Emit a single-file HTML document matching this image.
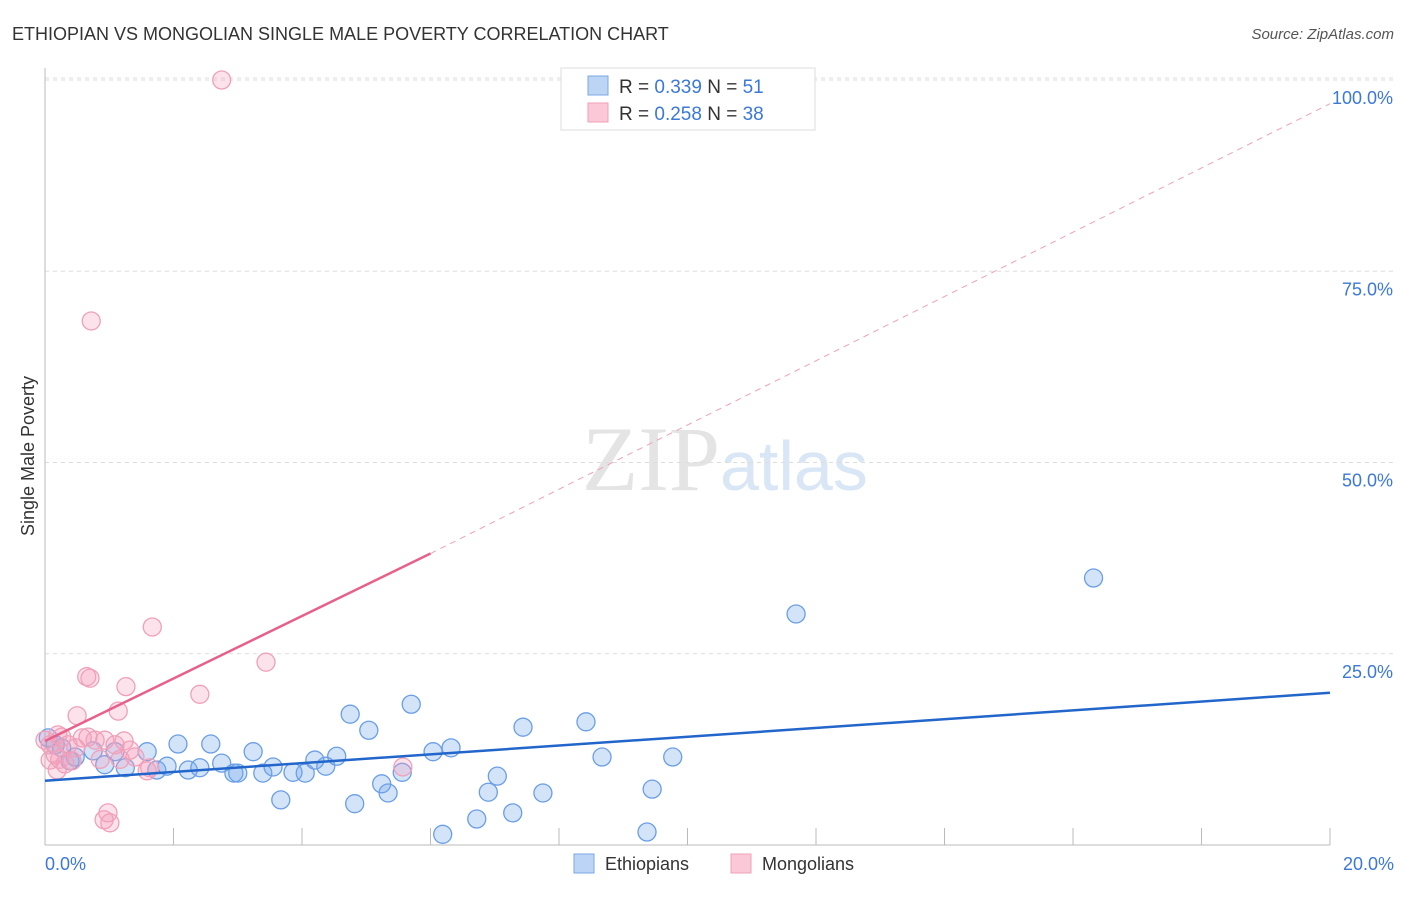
<!DOCTYPE html>
<html><head><meta charset="utf-8"><style>
body{margin:0;background:#fff;font-family:"Liberation Sans",sans-serif}
</style></head><body>
<svg width="1406" height="892" xmlns="http://www.w3.org/2000/svg">
<text x="12" y="40" font-size="18" fill="#333">ETHIOPIAN VS MONGOLIAN SINGLE MALE POVERTY CORRELATION CHART</text>
<text x="1394" y="39" font-size="15" fill="#555" font-style="italic" text-anchor="end">Source: ZipAtlas.com</text>
<text x="720" y="490" font-size="92" fill="#e4e4e4" text-anchor="end" font-family="Liberation Serif">ZIP</text>
<text x="720" y="490" font-size="70" fill="#d8e6f6">atlas</text>
<g id="grid"></g>
<line x1="45" y1="68" x2="45" y2="845" stroke="#bbb"/>
<line x1="45" y1="845" x2="1330" y2="845" stroke="#bbb"/>
<g id="ticks"></g>
<g id="pts"></g>
<g id="trends"></g>
<text transform="translate(34,456) rotate(-90)" font-size="18" fill="#333" text-anchor="middle">Single Male Poverty</text>
<text x="45" y="870" font-size="18" fill="#3b78d8">0.0%</text>
<text x="1394" y="870" font-size="18" fill="#3b78d8" text-anchor="end">20.0%</text>
<g>
<rect x="561" y="68" width="254" height="62" fill="#fff" stroke="#ddd"/>
<rect x="588" y="76" width="20" height="19" fill="#bcd5f5" stroke="#7aa7e6"/>
<rect x="588" y="103" width="20" height="19" fill="#fbc8d7" stroke="#f0a0b8"/>
<text x="619" y="93" font-size="19" fill="#333">R = <tspan fill="#3b78d8">0.339</tspan>   N = <tspan fill="#3b78d8">51</tspan></text>
<text x="619" y="120" font-size="19" fill="#333">R = <tspan fill="#3b78d8">0.258</tspan>   N = <tspan fill="#3b78d8">38</tspan></text>
</g>
<g>
<rect x="574" y="854" width="20" height="19" fill="#bcd5f5" stroke="#7aa7e6"/>
<text x="605" y="870" font-size="18" fill="#333">Ethiopians</text>
<rect x="731" y="854" width="20" height="19" fill="#fbc8d7" stroke="#f0a0b8"/>
<text x="762" y="870" font-size="18" fill="#333">Mongolians</text>
</g>
</svg>
<script>
const yTicks=[25,50,75,100];
const yTickLabels=["25.0%","50.0%","75.0%","100.0%"];
const blueX=[0.05,0.16,0.26,0.47,0.75,0.93,1.09,1.25,1.59,1.74,1.90,2.07,2.23,2.41,2.58,2.75,2.94,3.00,3.24,3.39,3.55,3.67,3.86,4.05,4.20,4.37,4.54,4.75,4.82,5.04,5.24,5.34,5.56,5.70,6.04,6.19,6.32,6.72,6.90,7.04,7.28,7.44,7.75,8.42,8.67,9.37,9.45,9.77,11.69,16.32,0.39];
const blueY=[14.0,13.1,12.7,11.5,12.3,10.5,12.2,10.1,12.2,9.8,10.3,13.2,9.8,10.1,13.2,10.7,9.4,9.4,12.2,9.4,10.2,5.9,9.5,9.4,11.1,10.3,11.6,17.1,5.4,15.0,8.0,6.8,9.5,18.4,12.2,1.4,12.7,3.4,6.9,9.0,4.2,15.4,6.8,16.1,11.5,1.7,7.3,11.5,30.2,34.9,11.0];
const pinkX=[2.75,0.72,1.67,3.44,0.65,0.70,1.26,2.41,1.14,0.50,0.26,0.67,1.23,0.93,0.48,0.08,0.16,0.23,0.31,0.42,0.86,1.09,1.40,1.59,0.19,0.98,0.92,1.01,5.57,0.00,0.08,0.36,0.58,0.78,1.32,1.63,0.20,1.17];
const pinkY=[100.0,68.5,28.5,23.9,22.0,21.8,20.7,19.7,17.5,16.9,14.1,14.1,13.6,13.7,12.7,13.1,11.8,11.2,10.6,11.0,11.2,13.1,11.5,9.7,9.8,4.2,3.3,2.9,10.2,13.7,11.1,13.1,14.0,13.7,12.4,10.1,14.4,11.2];
const blueTrend=[0,20,8.4,19.9];
const pinkTrend=[0,6.0,13.6,38.1,20,96.9];
const ns="http://www.w3.org/2000/svg";
const X=v=>45+v/20*1285, Y=v=>845-v/100*765;
function mk(t,a,p){const e=document.createElementNS(ns,t);for(const k in a)e.setAttribute(k,a[k]);p.appendChild(e);return e;}
const grid=document.getElementById('grid');
yTicks.forEach((t,i)=>{
 const l=mk('line',{x1:45,x2:1394,y1:Y(t),y2:Y(t),stroke:'#ddd','stroke-dasharray':'4,4'},grid);
 
 
 const tx=mk('text',{x:1393,y:Y(t)+24,'font-size':18,fill:'#3b78d8','text-anchor':'end'},grid);
 tx.textContent=yTickLabels[i];
 
 
});
mk('line',{x1:45,x2:1394,y1:Y(100)-2,y2:Y(100)-2,stroke:'#ddd','stroke-dasharray':'4,4'},grid);
const ticks=document.getElementById('ticks');
for(let i=1;i<=10;i++){
 const t=mk('line',{x1:X(i*2),x2:X(i*2),y1:828,y2:845,stroke:'#bbb'},ticks);
 
 
}
const pts=document.getElementById('pts');
blueX.forEach((x,i)=>{
 const c=mk('circle',{cx:X(x),cy:Y(blueY[i]),r:9,fill:'rgba(110,165,235,0.3)',stroke:'#6a9ee6','stroke-width':1.3},pts);
 
 
});
pinkX.forEach((x,i)=>{
 const c=mk('circle',{cx:X(x),cy:Y(pinkY[i]),r:9,fill:'rgba(245,160,190,0.3)',stroke:'#f0a0b8','stroke-width':1.3},pts);
 
 
});
const tr=document.getElementById('trends');
const b=mk('line',{x1:X(blueTrend[0]),x2:X(blueTrend[1]),y1:Y(blueTrend[2]),y2:Y(blueTrend[3]),stroke:'#2266cc','stroke-width':2.5},tr);


const p1=mk('line',{x1:X(pinkTrend[0]),y1:Y(pinkTrend[2]),x2:X(pinkTrend[1]),y2:Y(pinkTrend[3]),stroke:'#e8608a','stroke-width':2.5},tr);


const p2=mk('line',{x1:X(pinkTrend[1]),y1:Y(pinkTrend[3]),x2:X(pinkTrend[4]),y2:Y(pinkTrend[5]),stroke:'#f0a0b8','stroke-width':1,'stroke-dasharray':'6,5'},tr);


</script>
</body></html>
